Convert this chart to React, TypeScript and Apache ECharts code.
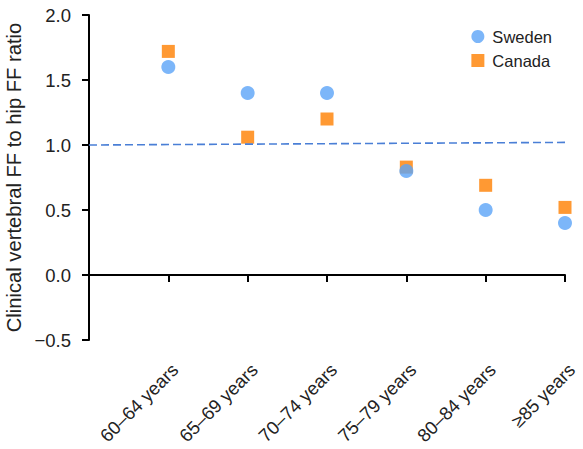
import React, { useEffect, useRef } from "react";
import * as echarts from "echarts";

const categories = ["", "60–64 years", "65–69 years", "70–74 years", "75–79 years", "80–84 years", "≥85 years"];
const sweden = [null, 1.6, 1.4, 1.4, 0.8, 0.5, 0.4];
const canada = [null, 1.72, 1.06, 1.2, 0.83, 0.69, 0.52];
const refLine = [1.0, 1.02];
const yTicks = { min: -0.5, max: 2.0, interval: 0.5 };

const FONT = "'Liberation Sans', Arial, Helvetica, sans-serif";

export default function App() {
  const ref = useRef<HTMLDivElement>(null);
  useEffect(() => {
    const chart = echarts.init(ref.current!, null, { renderer: "svg" });
    chart.setOption({
      animation: false,
      backgroundColor: "#ffffff",
      grid: { left: 89, right: 18, top: 15, bottom: 109, containLabel: false, outerBoundsMode: "none" },
      legend: {
        right: 26,
        top: 23,
        orient: "vertical",
        itemGap: 7,
        itemWidth: 13,
        itemHeight: 13,
        textStyle: { fontFamily: FONT, fontSize: 16.5, color: "#222", padding: [0, 0, 0, 3] },
        data: [
          { name: "Sweden", icon: "circle" },
          { name: "Canada", icon: "rect" },
        ],
      },
      xAxis: {
        type: "category",
        data: categories,
        boundaryGap: false,
        axisLine: { lineStyle: { color: "#000", width: 2 } },
        axisTick: { show: true, length: 7, inside: false, alignWithLabel: true, lineStyle: { color: "#000", width: 2 } },
        axisLabel: { rotate: 45, margin: 20, verticalAlign: "top", fontFamily: FONT, fontSize: 18.5, color: "#222", interval: 0 },
        splitLine: { show: false },
      },
      yAxis: {
        type: "value",
        min: yTicks.min,
        max: yTicks.max,
        interval: yTicks.interval,
        name: "Clinical vertebral FF to hip FF ratio",
        nameLocation: "middle",
        nameGap: 62,
        nameTextStyle: { fontFamily: FONT, fontSize: 20.2, color: "#222" },
        axisLine: { show: true, lineStyle: { color: "#000", width: 2 } },
        axisTick: { show: true, length: 7, lineStyle: { color: "#000", width: 2 } },
        axisLabel: { margin: 18, fontFamily: FONT, fontSize: 18.5, color: "#222", formatter: (v: number) => (v < 0 ? "−" + Math.abs(v).toFixed(1) : v.toFixed(1)) },
        splitLine: { show: false },
      },
      series: [
        {
          name: "Sweden",
          type: "scatter",
          symbol: "circle",
          symbolSize: 14,
          itemStyle: { color: "#5ba4f7" },
          data: sweden,
          z: 3,
          markLine: {
            silent: true,
            symbol: "none",
            label: { show: false },
            lineStyle: { color: "#4a7fd6", type: [8, 4], width: 1.6 },
            data: [[{ coord: [0, refLine[0]] }, { coord: [categories.length - 1, refLine[1]] }]],
          },
        },
        {
          name: "Canada",
          type: "scatter",
          symbol: "rect",
          symbolSize: 13,
          itemStyle: { color: "#ff8000" },
          data: canada,
          z: 2,
        },
      ],
    });
    return () => chart.dispose();
  }, []);
  return <div ref={ref} style={{ width: 583, height: 449, position: "absolute", left: 0, top: 0 }} />;
}
